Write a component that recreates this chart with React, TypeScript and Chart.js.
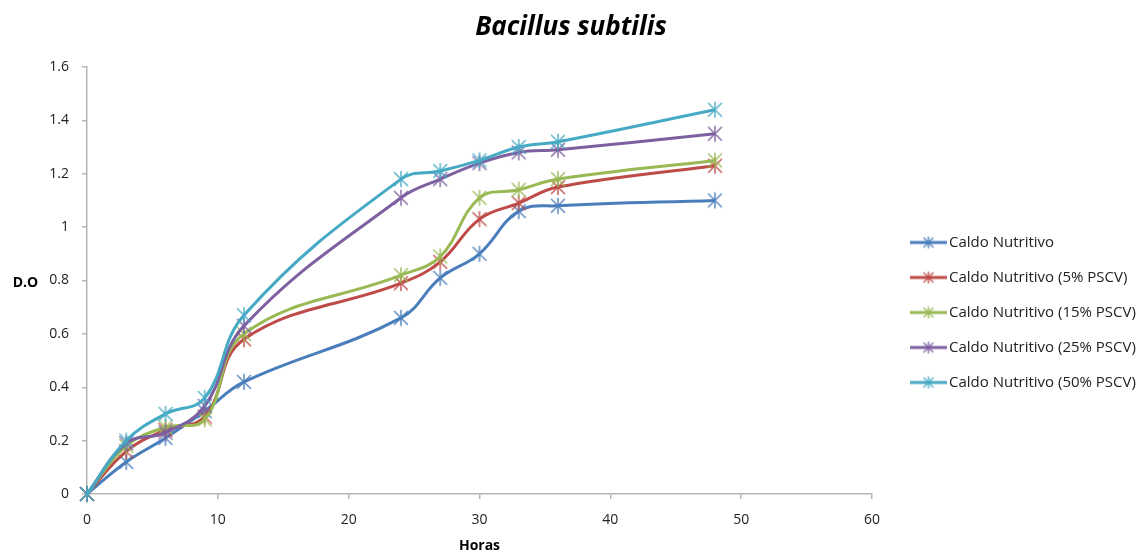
import React, { useEffect, useRef } from 'react';
import { Chart, registerables } from 'chart.js';

Chart.register(...registerables);

// ---- data ----
const chartTitle = 'Bacillus subtilis';
const xAxisTitle = 'Horas';
const yAxisTitle = 'D.O';
const hours = [0, 3, 6, 9, 12, 24, 27, 30, 33, 36, 48];
const seriesNames = [
  'Caldo Nutritivo',
  'Caldo Nutritivo (5% PSCV)',
  'Caldo Nutritivo (15% PSCV)',
  'Caldo Nutritivo (25% PSCV)',
  'Caldo Nutritivo (50% PSCV)',
];
const caldo = [0, 0.12, 0.21, 0.31, 0.42, 0.66, 0.81, 0.9, 1.06, 1.08, 1.1];
const pscv5 = [0, 0.16, 0.24, 0.29, 0.58, 0.79, 0.87, 1.03, 1.09, 1.15, 1.23];
const pscv15 = [0, 0.18, 0.25, 0.28, 0.6, 0.82, 0.89, 1.11, 1.14, 1.18, 1.25];
const pscv25 = [0, 0.19, 0.23, 0.33, 0.63, 1.11, 1.18, 1.24, 1.28, 1.29, 1.35];
const pscv50 = [0, 0.2, 0.3, 0.36, 0.67, 1.18, 1.21, 1.25, 1.3, 1.32, 1.44];
const seriesValues = [caldo, pscv5, pscv15, pscv25, pscv50];
const seriesColors = ['#4A7EBB', '#BE4B48', '#98B954', '#7D60A0', '#46AAC5'];
const xMin = 0;
const xMax = 60;
const xStep = 10;
const yMin = 0;
const yMax = 1.6;
const yStep = 0.2;

const FONT = '"Open Sans", Lato, sans-serif';

function makeStar(color: string, size: number, d: number, r: number) {
  const c = document.createElement('canvas');
  c.width = size;
  c.height = size;
  const ctx = c.getContext('2d')!;
  const m = size / 2;
  ctx.strokeStyle = color;
  ctx.globalAlpha = 0.85;
  ctx.lineWidth = 1.6;
  ctx.lineCap = 'round';
  ctx.beginPath();
  ctx.moveTo(m - d, m - d);
  ctx.lineTo(m + d, m + d);
  ctx.moveTo(m - d, m + d);
  ctx.lineTo(m + d, m - d);
  ctx.moveTo(m, m - r);
  ctx.lineTo(m, m + r);
  ctx.stroke();
  return c;
}

function makeLegendIcon(color: string) {
  const w = 37;
  const h = 16;
  const c = document.createElement('canvas');
  c.width = w;
  c.height = h;
  const ctx = c.getContext('2d')!;
  ctx.strokeStyle = color;
  ctx.lineWidth = 3;
  ctx.beginPath();
  ctx.moveTo(0, h / 2);
  ctx.lineTo(w, h / 2);
  ctx.stroke();
  const star = makeStar(color, 14, 4.5, 5.5);
  ctx.drawImage(star, w / 2 - 7, h / 2 - 7);
  return c;
}

const yTitlePlugin = {
  id: 'yTitleHorizontal',
  afterDraw(chart: any) {
    const { ctx, chartArea } = chart;
    ctx.save();
    ctx.font = `bold 14px ${FONT}`;
    ctx.fillStyle = '#000';
    ctx.textAlign = 'center';
    ctx.textBaseline = 'middle';
    ctx.fillText(yAxisTitle, 25.5, (chartArea.top + chartArea.bottom) / 2 + 2.5);
    ctx.restore();
  },
};

const layoutFixPlugin = {
  id: 'layoutFix',
  afterLayout(chart: any) {
    const lg = chart.legend;
    if (lg) {
      const dx = chart.chartArea.right + 23.5 - lg.left;
      lg.left += dx;
      lg.right = chart.width;
      lg.width = lg.right - lg.left;
      lg.top += 36.5;
      lg.bottom += 36.5;
    }
    const tb = chart.titleBlock;
    if (tb) {
      tb.left = 0;
      tb.right = chart.width;
      tb.width = chart.width;
    }
  },
};

export default function App() {
  const canvasRef = useRef<HTMLCanvasElement | null>(null);

  useEffect(() => {
    document.body.style.margin = '0';
    const canvas = canvasRef.current;
    if (!canvas) return;
    const legendIcons = seriesColors.map((c) => makeLegendIcon(c));
    const pointIcons = seriesColors.map((c) => makeStar(c, 18, 6.5, 7.5));

    const datasets = seriesNames.map((name, i) => ({
      label: name,
      data: hours.map((h, j) => ({ x: h, y: seriesValues[i][j] })),
      borderColor: seriesColors[i],
      backgroundColor: seriesColors[i],
      borderWidth: 3,
      tension: 0.4,
      fill: false,
      pointStyle: pointIcons[i],
      pointRadius: 7,
      clip: false,
      order: seriesNames.length - 1 - i,
    }));

    const chart = new Chart(canvas, {
      type: 'line',
      data: { datasets },
      options: {
        animation: false,
        responsive: false,
        devicePixelRatio: 1,
        layout: { padding: { left: 0, right: 70, top: 0, bottom: 0 } },
        plugins: {
          title: {
            display: true,
            text: chartTitle,
            color: '#000',
            font: { family: FONT, size: 26, weight: 'bold', style: 'italic' },
            padding: { top: 12, bottom: 23.8 },
          },
          legend: {
            display: true,
            position: 'right',
            align: 'center',
            maxWidth: 200,
            labels: {
              usePointStyle: true,
              pointStyleWidth: 26,
              padding: 20,
              color: '#222',
              font: { family: FONT, size: 15 },
              generateLabels: (ch: any) =>
                ch.data.datasets.map((ds: any, i: number) => ({
                  text: ds.label,
                  pointStyle: legendIcons[i],
                  fillStyle: seriesColors[i],
                  strokeStyle: seriesColors[i],
                  lineWidth: 0,
                  hidden: false,
                  datasetIndex: i,
                  fontColor: '#222',
                })),
            },
          },
          tooltip: { enabled: false },
        },
        scales: {
          x: {
            type: 'linear',
            min: xMin,
            max: xMax,
            ticks: {
              stepSize: xStep,
              color: '#222',
              font: { family: FONT, size: 14 },
              padding: 13,
            },
            grid: {
              display: true,
              drawOnChartArea: false,
              drawTicks: true,
              tickLength: 5,
              color: '#b5b5b5',
              lineWidth: 1.5,
            },
            border: { display: true, color: '#b5b5b5', width: 1.5 },
            title: {
              display: true,
              text: xAxisTitle,
              color: '#000',
              font: { family: FONT, size: 14, weight: 'bold' },
              padding: { top: 0, bottom: -2 },
            },
            afterFit: (s: any) => {
              s.height = 58;
            },
          },
          y: {
            type: 'linear',
            min: yMin,
            max: yMax,
            ticks: {
              stepSize: yStep,
              color: '#222',
              font: { family: FONT, size: 14 },
              padding: 13,
              callback: (v: any) => String(Number(Number(v).toFixed(1))),
            },
            grid: {
              display: true,
              drawOnChartArea: false,
              drawTicks: true,
              tickLength: 5,
              color: '#b5b5b5',
              lineWidth: 1.5,
            },
            border: { display: true, color: '#b5b5b5', width: 1.5 },
            afterFit: (s: any) => {
              s.width = 87;
            },
          },
        },
      },
      plugins: [yTitlePlugin, layoutFixPlugin],
    } as any);

    return () => {
      chart.destroy();
    };
  }, []);

  return (
    <div style={{ width: 1142, height: 552, position: 'relative', background: '#fff' }}>
      <canvas ref={canvasRef} width={1142} height={552} style={{ display: 'block' }} />
    </div>
  );
}
